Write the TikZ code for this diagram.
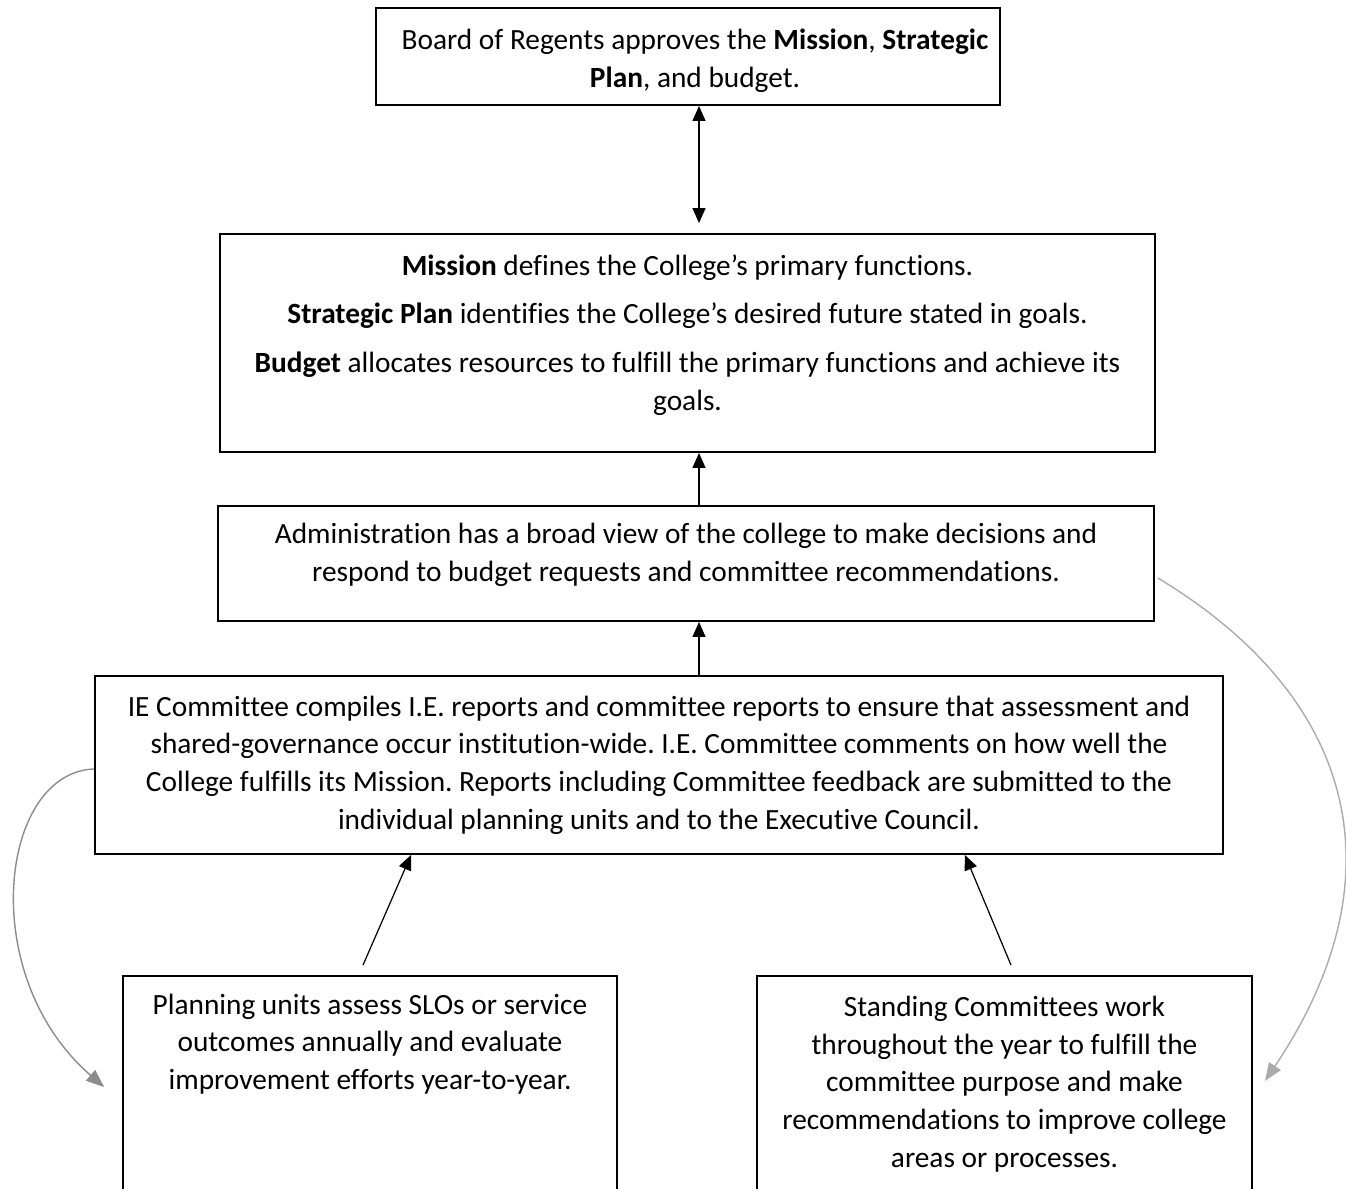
\documentclass[tikz,border=0pt]{standalone}
\usepackage{fontspec}
\setmainfont{Carlito}[Ligatures={TeX,NoCommon}]
\usetikzlibrary{positioning,arrows.meta}
\definecolor{backdark}{HTML}{8C8C8C}
\definecolor{backlight}{HTML}{ABABAB}
\frenchspacing

\begin{document}
\begin{tikzpicture}[
    x=0.02cm, y=-0.02cm,
    box/.style={rectangle,draw,line width=1.1pt,inner sep=0pt},
    txt/.style={align=center,inner sep=0pt},
    up/.style={line width=0.7pt,-{Triangle[length=0.3cm,width=0.26cm]}},
    feedback/.style={line width=0.8pt,-{Triangle[length=0.36cm,width=0.28cm]}},
    font=\fontsize{16.7pt}{21.5pt}\selectfont
    ]
    \useasboundingbox (0,0) rectangle (1346,1188);

    % top boxes:
    \node (board) at (688,56.5) [box,minimum width=12.48cm,minimum height=1.94cm] {};
    \node (board-txt) at (695,61) [txt]
      {Board of Regents approves the \textbf{Mission}, \textbf{Strategic}\\ \textbf{Plan}, and budget.};
    \node (mission) at (687.5,343) [box,minimum width=18.7cm,minimum height=4.36cm] {};
    \node (mission-txt) at (687.5,335) [txt]
      {\textbf{Mission} defines the College's primary functions.\\[6pt]
       \textbf{Strategic Plan} identifies the College's desired future stated in goals.\\[6pt]
       \textbf{Budget} allocates resources to fulfill the primary functions and achieve its\\ goals.};
    \node (admin) at (686,563.5) [box,minimum width=18.72cm,minimum height=2.3cm] {};
    \node (admin-txt) at (686,555) [txt]
      {Administration has a broad view of the college to make decisions and\\
       respond to budget requests and committee recommendations.};
    \node (ie) at (659,765) [box,txt,minimum width=22.56cm,minimum height=3.56cm]
      {IE Committee compiles I.E. reports and committee reports to ensure that assessment and\\
       shared-governance occur institution-wide. I.E. Committee comments on how well the\\
       College fulfills its Mission. Reports including Committee feedback are submitted to the\\
       individual planning units and to the Executive Council.};

    % bottom boxes:
    \node (plan) at (370,1103) [box,minimum width=9.88cm,minimum height=5.08cm] {};
    \node (plan-txt) at (370,1044) [txt]
      {Planning units assess SLOs or service\\ outcomes annually and evaluate\\ improvement efforts year-to-year.};
    \node (standing) at (1004.5,1103) [box,minimum width=9.9cm,minimum height=5.08cm] {};
    \node (standing-txt) at (1004.5,1084) [txt]
      {Standing Committees work\\ throughout the year to fulfill the\\ committee purpose and make\\
       recommendations to improve college\\ areas or processes.};

    \coordinate (spine) at (699,0);

    % arrows:
    \draw [line width=0.7pt,{Triangle[length=0.3cm,width=0.26cm]}-{Triangle[length=0.3cm,width=0.26cm]},shorten >=0.2cm]
      (board.south -| spine) -- (mission.north -| spine);
    \draw [up] (admin.north -| spine) -- (mission.south -| spine);
    \draw [up] (ie.north -| spine) -- (admin.south -| spine);
    \draw [up] ([xshift=-0.14cm,yshift=0.2cm]plan.north) -- ([xshift=-4.96cm]ie.south);
    \draw [up] ([xshift=0.13cm,yshift=0.2cm]standing.north) -- ([xshift=6.12cm]ie.south);

    % feedback curves:
    \draw [feedback,backdark] ([yshift=-0.08cm]ie.west)
      .. controls (0,772) and (-25,975) .. ([xshift=-0.36cm,yshift=-2.24cm]plan.north west);
    \draw [feedback,backlight] ([xshift=0.06cm,yshift=-0.29cm]admin.east)
      .. controls (1360,700) and (1400,880) .. ([xshift=0.24cm,yshift=-2.12cm]standing.north east);

  \end{tikzpicture}
\end{document}
